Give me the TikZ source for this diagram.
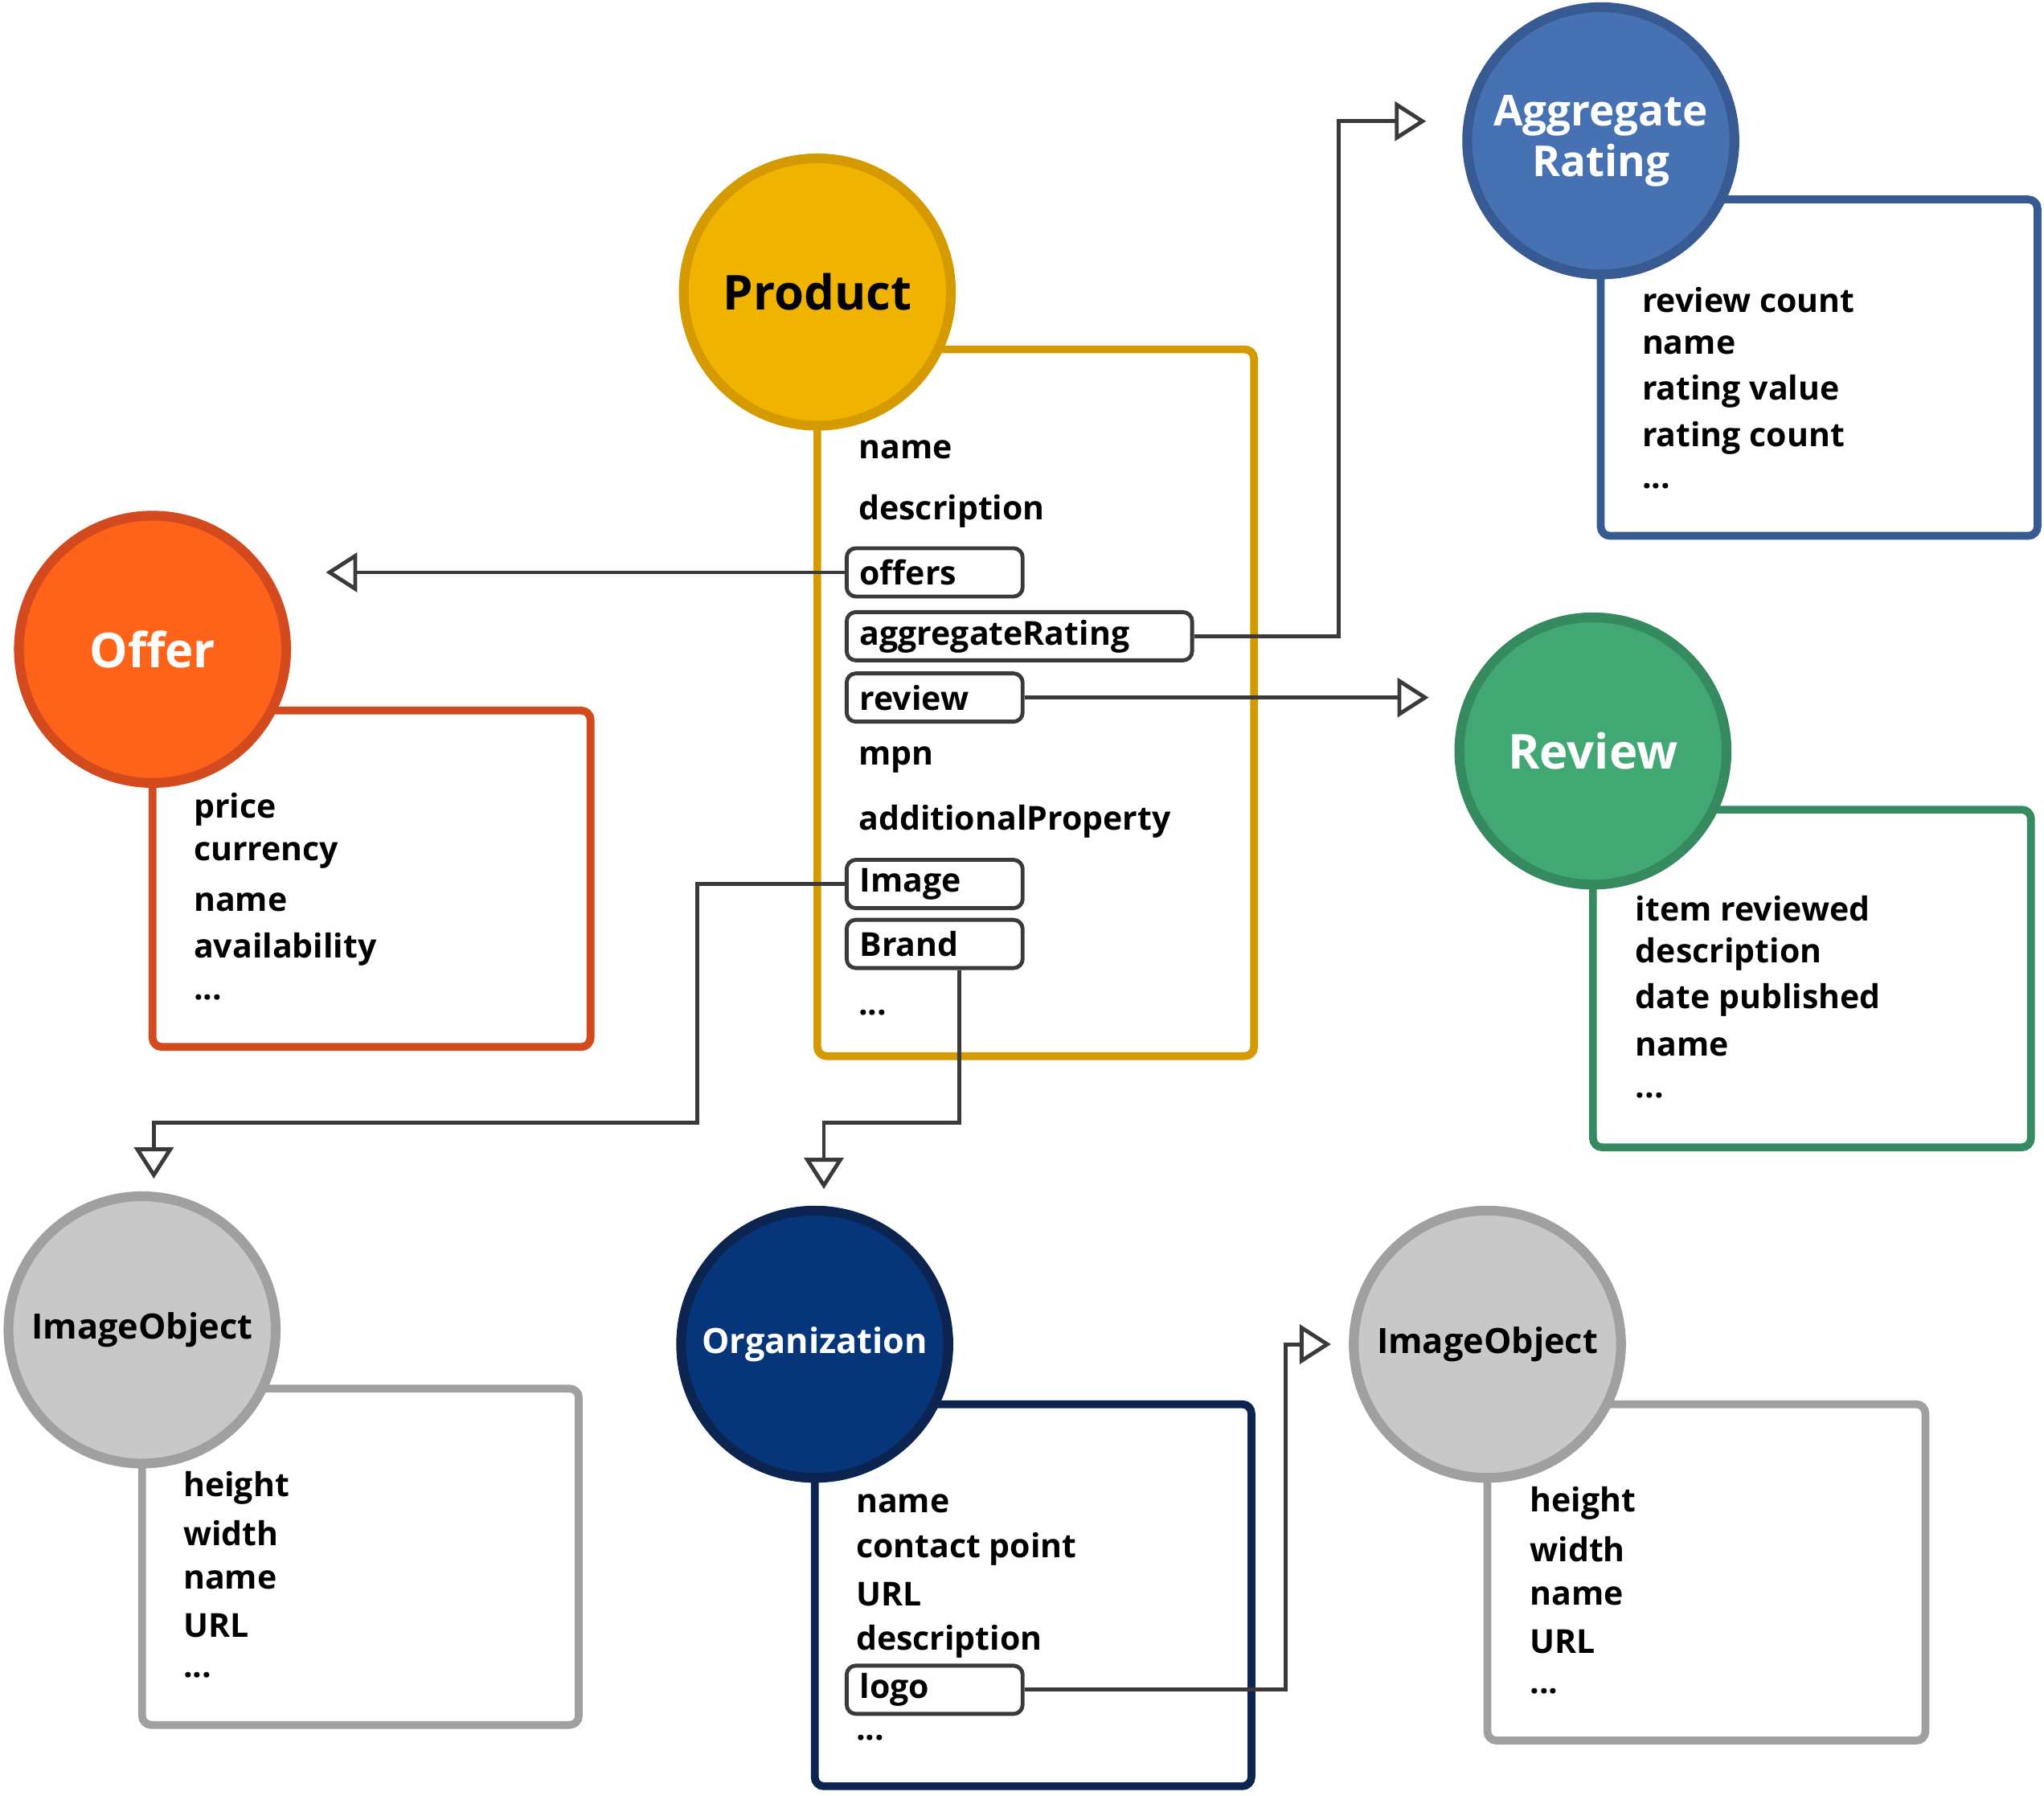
\documentclass[tikz,border=0pt]{standalone}
\usepackage{fontspec}
\setmainfont{Open Sans}
\usetikzlibrary{arrows.meta}
\definecolor{prodfill}{HTML}{F0B400}\definecolor{prodline}{HTML}{D49A00}
\definecolor{offerfill}{HTML}{FF6319}\definecolor{offerline}{HTML}{D24A1E}
\definecolor{aggfill}{HTML}{4672B4}\definecolor{aggline}{HTML}{375A92}
\definecolor{revfill}{HTML}{41A874}\definecolor{revline}{HTML}{358A5F}
\definecolor{imgfill}{HTML}{C8C8C8}\definecolor{imgline}{HTML}{A0A0A0}
\definecolor{orgfill}{HTML}{06357A}\definecolor{orgline}{HTML}{0C2550}
\definecolor{wire}{HTML}{3A3A3A}
\newcommand\more{...}
\begin{document}
\begin{tikzpicture}[
    x=0.1mm, y=-0.1mm,
    every node/.style={font=\fontsize{7.2}{8}\selectfont\bfseries},
    entity/.style={circle, draw=#1line, fill=#1fill, line width=0.75mm, minimum size=20.5mm, inner sep=0pt},
    frame/.style={draw=#1, fill=white, line width=0.6mm, rounded corners=2pt},
    prop/.style={anchor=west, inner sep=0pt},
    field/.style={draw=wire, line width=0.3mm, rounded corners=2pt, anchor=west, inner xsep=1mm,
                  inner ysep=0pt, minimum height=3.7mm, text width=#1, align=left},
    field/.default=11.5mm,
    link/.style={draw=wire, line width=0.3mm, -{Triangle[open, length=2.4mm, width=3mm, fill=white]}}
  ]
  \useasboundingbox (0,0) rectangle (1568,1377);

  % Product
  \draw[frame=prodline] (627,268) rectangle (962,810);
  \node[entity=prod, font=\fontsize{10.5}{12}\selectfont\bfseries] (product) at (627,224) {Product};
  \node[prop] at (658,345) {name};
  \node[prop] at (658,392) {description};
  \node[field] (offers) at (648,439) {offers};
  \node[field=24.5mm] (aggr) at (648,488) {aggregateRating};
  \node[field] (review) at (648,535) {review};
  \node[prop] at (658,583) {mpn};
  \node[prop] at (658,630) {additionalProperty};
  \node[field] (image) at (648,678) {Image};
  \node[field] (brand) at (648,724) {Brand};
  \node[prop] at (658,777) {\more};

  % Offer
  \draw[frame=offerline] (117,545) rectangle (453,803);
  \node[entity=offer, text=white, font=\fontsize{10.5}{12}\selectfont\bfseries] (offer) at (117,498) {Offer};
  \foreach \t/\y in {price/621, currency/656, name/692, availability/728, \more/765}
    \node[prop] at (148,\y) {\t};

  % Aggregate Rating
  \draw[frame=aggline] (1228,153) rectangle (1563,411);
  \node[entity=agg, text=white, align=center, font=\fontsize{9.3}{11}\selectfont\bfseries] (rating) at (1228,108) {Aggregate\\Rating};
  \foreach \t/\y in {review count/230, name/265, rating value/300, rating count/336, \more/373}
    \node[prop] at (1259,\y) {\t};

  % Review
  \draw[frame=revline] (1222,621) rectangle (1558,880);
  \node[entity=rev, text=white, font=\fontsize{10.5}{12}\selectfont\bfseries] (reviewobj) at (1222,576) {Review};
  \foreach \t/\y in {item reviewed/697, description/732, date published/767, name/803, \more/840}
    \node[prop] at (1254,\y) {\t};

  % ImageObject (left)
  \draw[frame=imgline] (109,1065) rectangle (444,1323);
  \node[entity=img, font=\fontsize{7.6}{9}\selectfont\bfseries] (imageobj) at (109,1020) {ImageObject};
  \foreach \t/\y in {height/1141, width/1176, name/1212, URL/1247, \more/1285}
    \node[prop] at (140,\y) {\t};

  % Organization
  \draw[frame=orgline] (625,1077) rectangle (960,1370);
  \node[entity=org, text=white, font=\fontsize{7.6}{9}\selectfont\bfseries] (org) at (625,1031) {Organization};
  \foreach \t/\y in {name/1153, contact point/1188, URL/1223, description/1259, \more/1333}
    \node[prop] at (656,\y) {\t};
  \node[field] (logo) at (648,1296) {logo};

  % ImageObject (right)
  \draw[frame=imgline] (1141,1077) rectangle (1477,1335);
  \node[entity=img, font=\fontsize{7.6}{9}\selectfont\bfseries] (logoobj) at (1141,1031) {ImageObject};
  \foreach \t/\y in {height/1153, width/1188, name/1224, URL/1259, \more/1297}
    \node[prop] at (1173,\y) {\t};

  % links
  \coordinate (offerin) at (250,439);
  \coordinate (ratingin) at (1094,93);
  \coordinate (reviewin) at (1096,535);
  \coordinate (imagein) at (118,904);
  \coordinate (orgin) at (632,912);
  \coordinate (logoin) at (1021,1031);
  \draw[link] (offers.west) -- (offerin);
  \draw[link] (aggr.east) -- (1027,488) |- (ratingin);
  \draw[link] (review.east) -- (reviewin);
  \draw[link] (image.west) -- (535,678) -- (535,861) -| (imagein);
  \draw[link] (brand.south -| 736,0) -- (736,861) -| (orgin);
  \draw[link] (logo.east) -- (986,1296) |- (logoin);
\end{tikzpicture}
\end{document}
